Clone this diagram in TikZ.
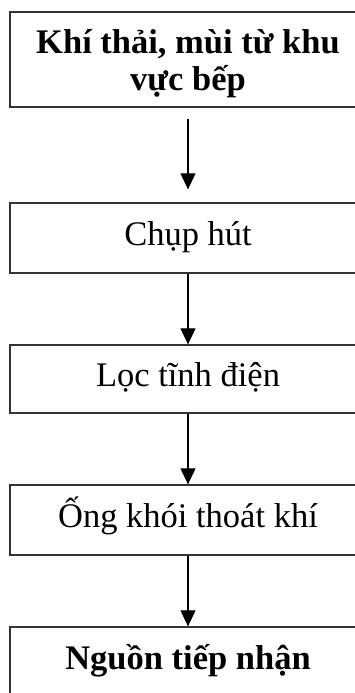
\documentclass[tikz,border=0pt]{standalone}
\usepackage{fontspec}
\setmainfont{Liberation Serif}
\usetikzlibrary{arrows.meta}
\begin{document}
\begin{tikzpicture}[x=1pt,y=-1pt,
  stagebox/.style={draw=black!80, line width=1.3pt, minimum width=356pt,
    inner sep=0pt, align=center, font=\fontsize{34.5}{37}\selectfont,
    text height=23pt, text depth=8pt},
  flow/.style={draw=black, line width=1.1pt,
    -{Triangle[length=16pt,width=15pt]}}]
  \fill[white] (0,0) rectangle (355,693);
  \clip (0,0) rectangle (355,693);
  \useasboundingbox (0,0) rectangle (355,693);

  % process stages, top to bottom
  \node[stagebox, minimum height=95pt, text height=61pt, text depth=0pt,
        font=\fontsize{34.5}{37}\selectfont\bfseries]
    (src) at (188,59.5) {Khí thải, mùi từ khu\\vực bếp};
  \node[stagebox, minimum height=70pt] (hood) at (188,238) {Chụp hút};
  \node[stagebox, minimum height=68pt] (esp) at (188,379) {Lọc tĩnh điện};
  \node[stagebox, minimum height=70pt] (stack) at (188,520) {Ống khói thoát khí};
  \node[stagebox, minimum height=70pt,
        font=\fontsize{34.5}{37}\selectfont\bfseries]
    (recv) at (188,662) {Nguồn tiếp nhận};

  % connectors
  \draw[flow, shorten <=11pt, shorten >=13pt] (src.south) -- (hood.north);
  \draw[flow] (hood.south) -- (esp.north);
  \draw[flow] (esp.south) -- (stack.north);
  \draw[flow] (stack.south) -- (recv.north);
\end{tikzpicture}
\end{document}
